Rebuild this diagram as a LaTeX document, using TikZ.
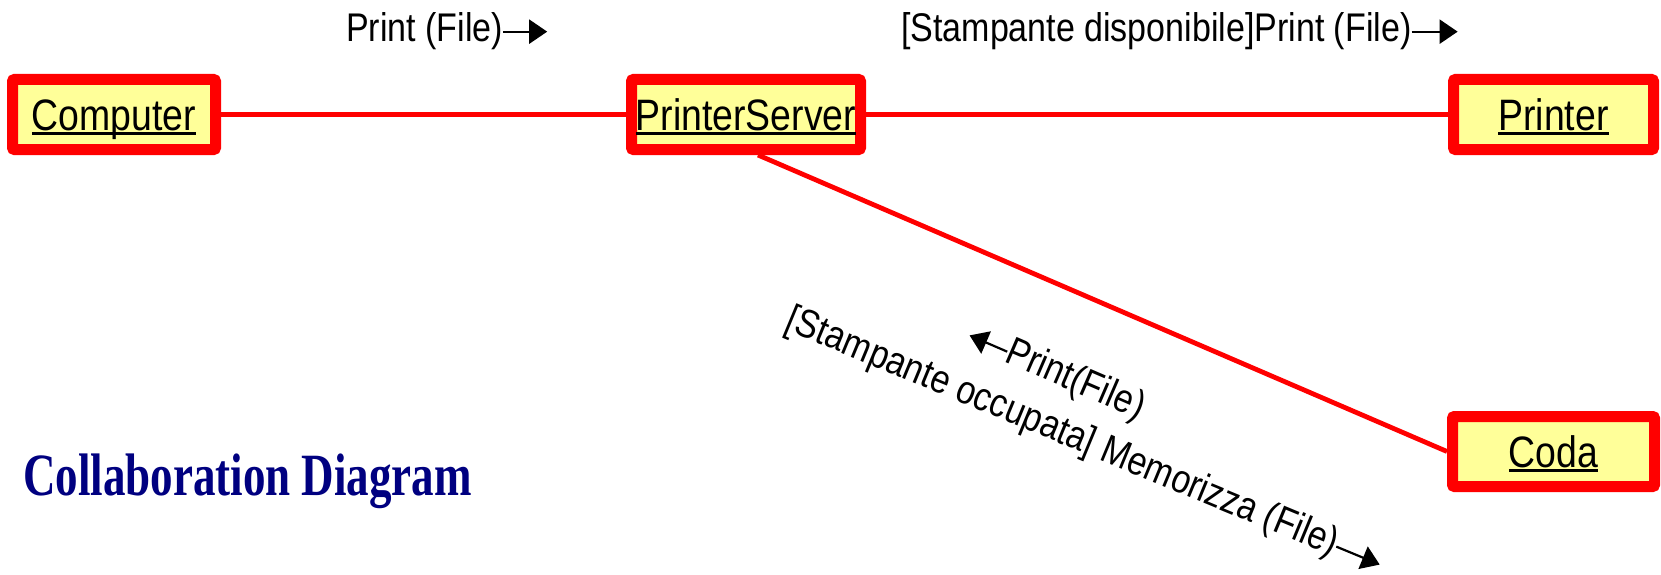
\documentclass[tikz,border=0pt]{standalone}
\usepackage{fontspec}
\setmainfont{Liberation Sans}
\newfontfamily\narrowsans[FakeStretch=0.85]{Liberation Sans}
\newfontfamily\narrowserif[FakeStretch=0.75]{Liberation Serif}
\usetikzlibrary{arrows.meta,backgrounds,calc}
\definecolor{objfill}{RGB}{255,255,153}
\definecolor{titleblue}{RGB}{0,0,128}
\newsavebox\ulbox
\newcommand\objul[1]{\sbox\ulbox{#1}\rlap{\rule[-0.11em]{\wd\ulbox}{0.055em}}\usebox\ulbox}
\tikzstyle{obj} = [draw=red, line width=11pt, fill=objfill, rounded corners=2pt, minimum height=70pt, inner sep=0pt, text height=33pt, text depth=2pt, font=\narrowsans\fontsize{44}{50}\selectfont]
\tikzstyle{line} = [draw, red, line width=4.8pt]
\tikzstyle{msg} = [inner sep=0pt, font=\narrowsans\fontsize{40}{48}\selectfont]
\tikzstyle{msgarrow} = [draw, line width=2.2pt, -{Triangle[length=18pt,width=24pt]}]

\begin{document}
\begin{tikzpicture}[x=1pt, y=-1pt]
	\useasboundingbox (0,0) rectangle (1661,575);
	
	\node [obj, minimum width=203pt] (computer) at (114,114.5) {\objul{Computer}};
	\node [obj, right of=computer, node distance=632pt, minimum width=229pt] (printerserver) {\objul{PrinterServer}};
	\node [obj, right of=printerserver, node distance=807.5pt, minimum width=200pt] (printer) {\objul{Printer}};
	\node [obj, below of=printer, node distance=337pt, minimum width=202pt] (coda) {\objul{Coda}};
	
	\begin{scope}[on background layer]
	\path [line] (computer) -- (printerserver);
	\path [line] (printerserver) -- (printer);
	\coordinate (psfoot) at ([xshift=12pt]printerserver.south);
	\path [line] (psfoot) -- (coda.west);
	\end{scope}
	
	\node [msg, anchor=base west] (printmsg) at (346,42) {Print (File)};
	\path [msgarrow] (printmsg.east) -- ($(printmsg.east)!-44pt!(printmsg.west)$);
	
	\node [msg, anchor=base west] (availmsg) at (901,42) {[Stampante disponibile]Print (File)};
	\path [msgarrow] (availmsg.east) -- ($(availmsg.east)!-46pt!(availmsg.west)$);
	
	\node [msg, rotate=-23.4] (queuemsg) at (1075,381) {Print(File)};
	\path [msgarrow] (queuemsg.west) -- ($(queuemsg.west)!-41pt!(queuemsg.east)$);
	
	\node [msg, rotate=-22.5] (storemsg) at (1062,433) {[Stampante occupata] Memorizza (File)};
	\path [msgarrow] (storemsg.east) -- ($(storemsg.east)!-47pt!(storemsg.west)$);
	
	\node [anchor=base west, inner sep=0pt, text=titleblue, font=\narrowserif\bfseries\fontsize{60}{70}\selectfont] (title) at (23,495) {Collaboration Diagram};
\end{tikzpicture}
\end{document}
